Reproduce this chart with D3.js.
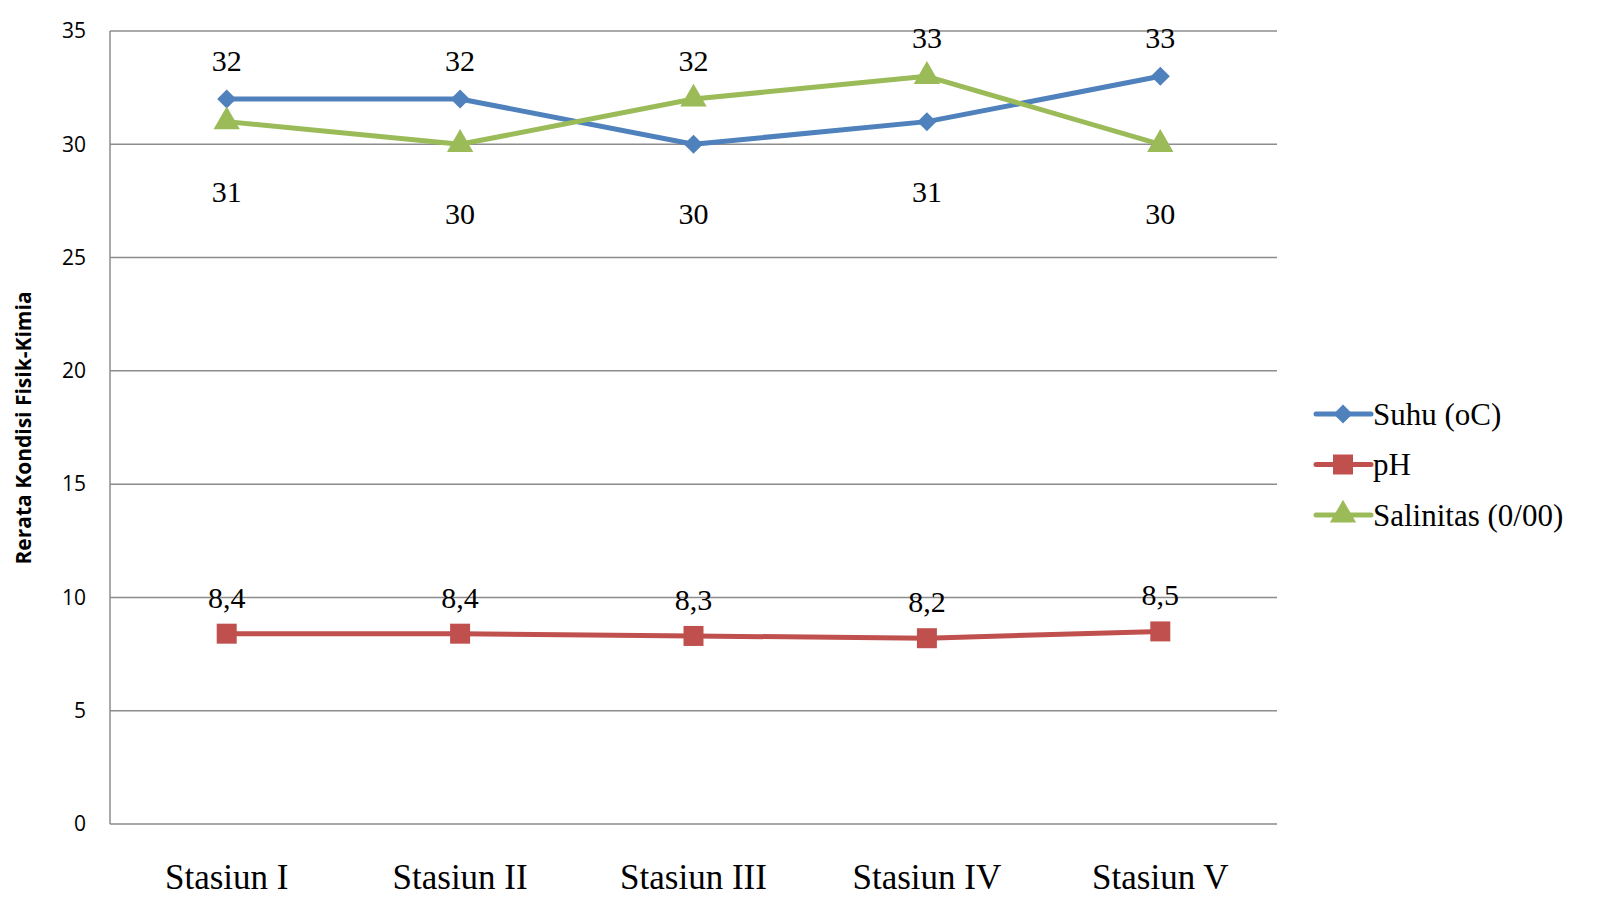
<!DOCTYPE html>
<html>
<head>
<meta charset="utf-8">
<script src="https://cdn.jsdelivr.net/npm/d3@7/dist/d3.min.js"></script>
<style>
  body { margin: 0; background: #fff; }
</style>
</head>
<body>
<svg id="chart" width="1603" height="913"></svg>
<script>
// data
const stations = ['Stasiun I', 'Stasiun II', 'Stasiun III', 'Stasiun IV', 'Stasiun V'];
const suhu = [32, 32, 30, 31, 33];
const ph = [8.4, 8.4, 8.3, 8.2, 8.5];
const salinitas = [31, 30, 32, 33, 30];
const yTicks = [0, 5, 10, 15, 20, 25, 30, 35];

const series = [
    { name: 'Suhu (oC)', values: suhu, color: '#4F81BD', symbol: d3.symbolDiamond2, size: 230 },
    { name: 'pH', values: ph, color: '#C0504D', symbol: d3.symbolSquare, size: 400 },
    { name: 'Salinitas (0/00)', values: salinitas, color: '#9BBB59', symbol: d3.symbolTriangle, size: 300 }
];

const margin = { left: 110, top: 31, right: 1277, bottom: 824 };
const svg = d3.select('#chart');

const x = d3.scaleBand()
    .domain(stations)
    .range([margin.left, margin.right]);
const y = d3.scaleLinear()
    .domain([0, 35])
    .range([margin.bottom, margin.top]);

const cx = d => x(d) + x.bandwidth() / 2;

// gridlines
svg.append('g')
    .selectAll('line')
    .data(yTicks)
    .join('line')
    .attr('x1', margin.left)
    .attr('x2', margin.right)
    .attr('y1', d => y(d))
    .attr('y2', d => y(d))
    .attr('stroke', '#8c8c8c')
    .attr('stroke-width', 1.5);

// left axis line
svg.append('line')
    .attr('x1', margin.left)
    .attr('x2', margin.left)
    .attr('y1', margin.top)
    .attr('y2', margin.bottom)
    .attr('stroke', '#8c8c8c')
    .attr('stroke-width', 1.5);

// y axis labels
const yAxis = svg.append('g')
    .attr('transform', 'translate(' + margin.left + ',0)')
    .call(d3.axisLeft(y).tickValues(yTicks).tickSize(0).tickPadding(24));
yAxis.select('.domain').remove();
yAxis.selectAll('text')
    .attr('font-family', 'Open Sans, Liberation Sans, sans-serif')
    .attr('font-size', 21)
    .attr('fill', '#000');

// x axis labels
const xAxis = svg.append('g')
    .attr('transform', 'translate(0,' + margin.bottom + ')')
    .call(d3.axisBottom(x).tickSize(0).tickPadding(40));
xAxis.select('.domain').remove();
xAxis.selectAll('text')
    .attr('font-family', 'Liberation Serif, Times New Roman, serif')
    .attr('font-size', 35)
    .attr('fill', '#000');

// axis title
svg.append('text')
    .attr('transform', 'translate(31,' + 428 + ') rotate(-90)')
    .attr('text-anchor', 'middle')
    .attr('font-family', 'Open Sans, Liberation Sans, sans-serif')
    .attr('font-weight', 'bold')
    .attr('font-size', 21)
    .text('Rerata Kondisi Fisik-Kimia');

// lines and markers
const line = d3.line()
    .x((d, i) => cx(stations[i]))
    .y(d => y(d));

series.forEach(s => {
    svg.append('path')
        .datum(s.values)
        .attr('d', line)
        .attr('fill', 'none')
        .attr('stroke', s.color)
        .attr('stroke-width', 5)
        .attr('stroke-linejoin', 'round');
    svg.append('g')
        .selectAll('path')
        .data(s.values)
        .join('path')
        .attr('d', d3.symbol().type(s.symbol).size(s.size))
        .attr('transform', (d, i) => 'translate(' + cx(stations[i]) + ',' + y(d) + ')')
        .attr('fill', s.color);
});

// data labels: higher of suhu/salinitas above, lower below; pH above
const fmt = v => String(v).replace('.', ',');
const labelFont = 'Liberation Serif, Times New Roman, serif';
const labelSize = 30;
stations.forEach((st, i) => {
    const hi = Math.max(suhu[i], salinitas[i]);
    const lo = Math.min(suhu[i], salinitas[i]);
    svg.append('text')
        .attr('x', cx(st))
        .attr('y', y(hi) - 28)
        .attr('text-anchor', 'middle')
        .attr('font-family', labelFont)
        .attr('font-size', labelSize)
        .text(fmt(hi));
    svg.append('text')
        .attr('x', cx(st))
        .attr('y', y(lo) + 80)
        .attr('text-anchor', 'middle')
        .attr('font-family', labelFont)
        .attr('font-size', labelSize)
        .text(fmt(lo));
    svg.append('text')
        .attr('x', cx(st))
        .attr('y', y(ph[i]) - 26)
        .attr('text-anchor', 'middle')
        .attr('font-family', labelFont)
        .attr('font-size', labelSize)
        .text(fmt(ph[i]));
});

// legend
const legend = svg.append('g')
    .attr('transform', 'translate(1316,414)');
series.forEach((s, i) => {
    const g = legend.append('g')
        .attr('transform', 'translate(0,' + (i * 50.5) + ')');
    g.append('line')
        .attr('x1', 0)
        .attr('x2', 55)
        .attr('stroke', s.color)
        .attr('stroke-width', 5)
        .attr('stroke-linecap', 'round');
    g.append('path')
        .attr('d', d3.symbol().type(s.symbol).size(s.size))
        .attr('transform', 'translate(27,0)')
        .attr('fill', s.color);
    g.append('text')
        .attr('x', 57)
        .attr('dy', '0.35em')
        .attr('font-family', labelFont)
        .attr('font-size', 31)
        .text(s.name);
});
</script>
</body>
</html>
